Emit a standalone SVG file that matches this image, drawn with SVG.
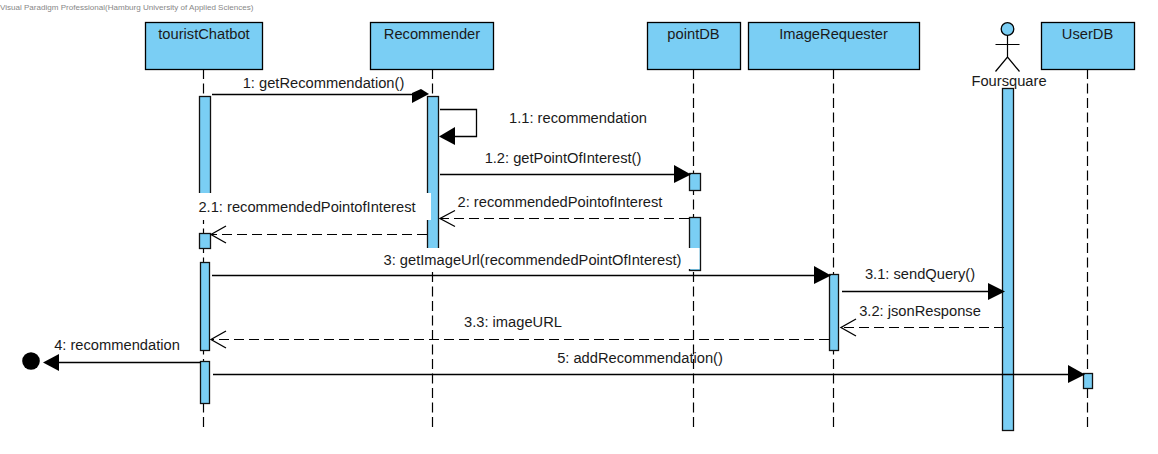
<svg xmlns="http://www.w3.org/2000/svg" width="1158" height="454" viewBox="0 0 1158 454">
<style>
text{font-family:"Liberation Sans",Arial,sans-serif;font-size:14.7px;fill:#1a1a1a;text-anchor:middle}
.h{fill:#7acef4;stroke:#000;stroke-width:1.3}
.a{fill:#7acef4;stroke:#111;stroke-width:1.3}
.l{stroke:#000;stroke-width:1.2;stroke-dasharray:10 4.500;fill:none}
.m{stroke:#000;stroke-width:1.2;fill:none}
.r{stroke:#000;stroke-width:1.2;stroke-dasharray:10 5;fill:none}
.o{stroke:#000;stroke-width:1.3;fill:none}
.f{fill:#000}
.w{fill:#fff}
</style>
<rect width="1158" height="454" fill="#fff"/>
<text x="0" y="10" style="font-size:8.05px;text-anchor:start;fill:#888">Visual Paradigm Professional(Hamburg University of Applied Sciences)</text>
<g id="lifelines">
<path class="l" d="M203.500 69V431M432.500 69V431M693.500 69V431M833.500 69V431M1087.500 69V431"/>
</g>
<g id="touristChatbot"><rect class="h" x="145.500" y="22.500" width="117" height="47"/><text x="204" y="39">touristChatbot</text>
<rect class="a" x="199.500" y="96.500" width="11" height="110"/><rect class="a" x="199.500" y="233.500" width="11" height="15"/><rect class="a" x="200.500" y="262.500" width="9" height="88"/><rect class="a" x="200.500" y="361.500" width="9" height="42"/></g>
<g id="Recommender"><rect class="h" x="370.500" y="22.500" width="123" height="47"/><text x="432" y="39">Recommender</text>
<rect class="a" x="427.500" y="96.500" width="11" height="160"/></g>
<g id="pointDB"><rect class="h" x="647.500" y="22.500" width="93" height="47"/><text x="693.500" y="39">pointDB</text>
<rect class="a" x="689.500" y="173.500" width="11" height="17"/><rect class="a" x="689.500" y="217.500" width="11" height="53"/></g>
<g id="ImageRequester"><rect class="h" x="748.500" y="22.500" width="171" height="47"/><text x="833.500" y="39">ImageRequester</text>
<rect class="a" x="829.500" y="274.500" width="9" height="76"/></g>
<g id="Foursquare"><circle class="h" cx="1007.500" cy="29" r="6.300"/><path class="m" d="M1007.500 35.500V57M995.500 44.500H1019.500M995.500 71.500L1007.500 57L1019.500 71.500"/><text x="1009" y="86">Foursquare</text>
<rect class="a" x="1002.500" y="88.500" width="11" height="342"/></g>
<g id="UserDB"><rect class="h" x="1041.500" y="22.500" width="93" height="47"/><text x="1087.500" y="39">UserDB</text>
<rect class="a" x="1083.500" y="373.500" width="9" height="15"/></g>
<g id="lost"><circle class="f" cx="31" cy="361" r="8.800"/></g>
<g id="labels-bg">
<rect class="w" x="196" y="193" width="235" height="27"/>
<rect class="w" x="381" y="248" width="318.500" height="21"/>
</g>
<g id="connectors">
<path class="o" d="M212 94.500H412"/><path class="f" d="M412 93L421 89L429 94L412 103Z"/>
<path class="o" d="M440 109.500H476.500V136.500H455"/><path class="f" d="M439 136.500L455 127V145Z"/>
<path class="o" d="M440 174.500H674"/><path class="f" d="M674 165L691 174.500L674 183Z"/>
<path class="r" d="M689 218.500H441"/><path class="o" d="M455 210.500L440 218.500L455 226.500"/>
<path class="r" d="M427 234.500H212"/><path class="o" d="M226 226L211 234.500L226 243"/>
<path class="o" d="M212 275.500H814"/><path class="f" d="M814 266L831 275.500L814 284Z"/>
<path class="o" d="M842 291.500H988"/><path class="f" d="M988 283L1005 291.500L988 300Z"/>
<path class="r" d="M1004 327.500H842"/><path class="o" d="M856 319L841 327.500L856 336"/>
<path class="r" d="M829 339.500H212"/><path class="o" d="M226 331L211 339.500L226 348"/>
<path class="o" d="M201 362.500H59"/><path class="f" d="M59 354L43 362.500L59 371Z"/>
<path class="o" d="M213 374.500H1068"/><path class="f" d="M1068 365L1085 374.500L1068 383Z"/>
</g>
<g id="labels">
<text x="323.500" y="88">1: getRecommendation()</text>
<text x="578" y="123">1.1: recommendation</text>
<text x="563" y="163">1.2: getPointOfInterest()</text>
<text x="560" y="207">2: recommendedPointofInterest</text>
<text x="307" y="212">2.1: recommendedPointofInterest</text>
<text x="532.500" y="265">3: getImageUrl(recommendedPointOfInterest)</text>
<text x="920" y="279">3.1: sendQuery()</text>
<text x="920" y="316">3.2: jsonResponse</text>
<text x="513" y="327">3.3: imageURL</text>
<text x="117" y="350">4: recommendation</text>
<text x="640" y="363">5: addRecommendation()</text>
</g>
</svg>
